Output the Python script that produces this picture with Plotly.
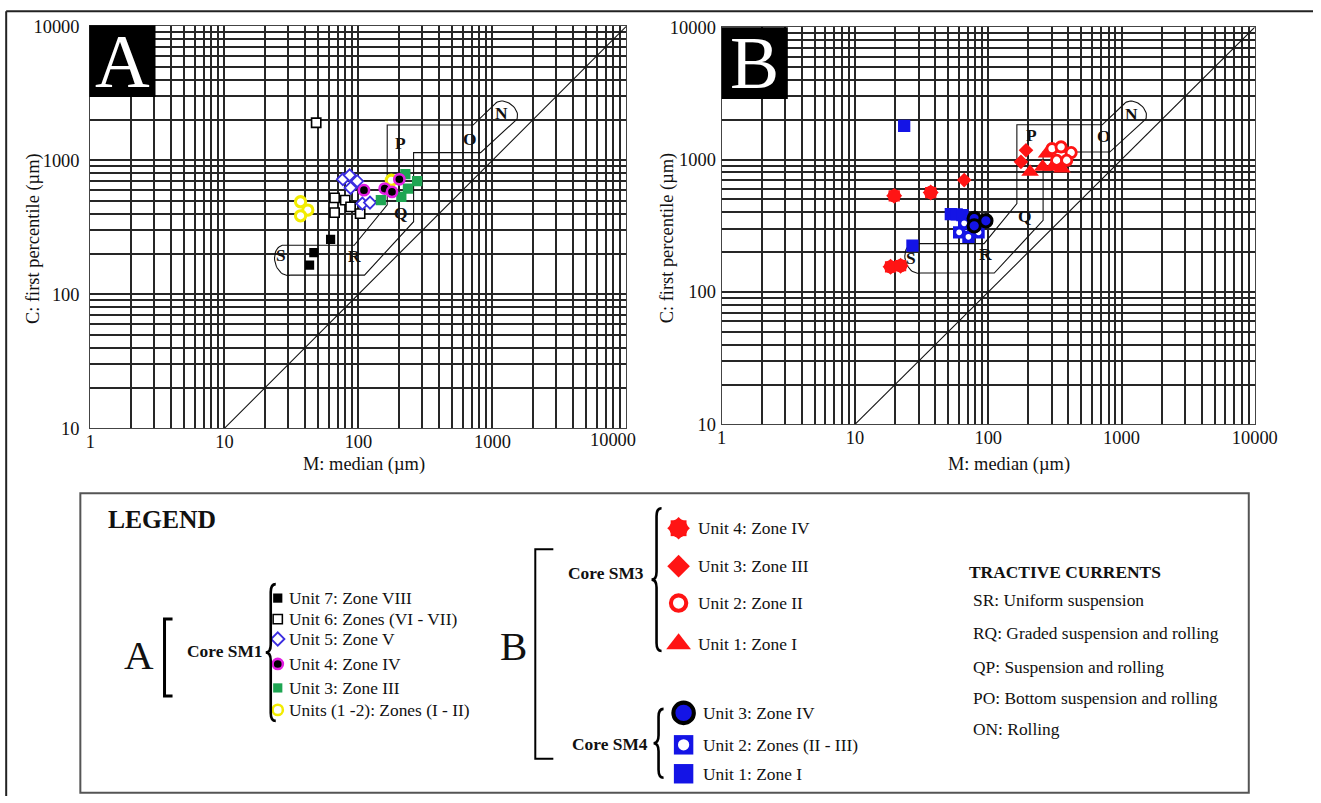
import numpy as np
import plotly.graph_objects as go

# Page geometry: the page is viewed with a 8 px body margin and captured at
# a slight reduction, so layout positions below are given in final-image pixels
# and converted to figure pixels with S and OFF.
S = 0.977
OFF = 8
IMG_W, IMG_H = 1321, 803
FW = int(round(IMG_W / S)) - 2 * OFF
FH = int(round(IMG_H / S)) - 2 * OFF

SERIF = "Liberation Serif, Times New Roman, serif"
GRID = "#262626"
RED = "#ff1414"
BLUE = "#1414e6"

# ---------------- Core SM1 (panel A): M = median, C = first percentile (µm)
sm1_u7_m = [62, 46.5, 43.2]
sm1_u7_c = [257, 205, 165]
sm1_u6_m = [48.4, 66.4, 79.7, 87.4, 66.4, 103]
sm1_u6_c = [1905, 524, 504, 449, 407, 400]
sm1_u5_m = [76.6, 86, 98, 87.4, 107, 122]
sm1_u5_c = [721, 773, 698, 622, 475, 483]
sm1_u4_m = [110, 157, 178, 202]
sm1_u4_c = [598, 615, 581, 721]
sm1_u3_m = [147, 224, 274, 234, 209]
sm1_u3_c = [504, 787, 698, 615, 533]
sm1_u12_m = [37, 41.9, 37, 176]
sm1_u12_c = [490, 425, 385, 709]

# ---------------- Cores SM3 and SM4 (panel B)
sm3_u4_m = [19.7, 37, 18.5, 22]
sm3_u4_c = [532, 564, 155, 158]
sm3_u3_m = [192, 176, 66]
sm3_u3_c = [1177, 961, 700]
sm3_u1_m = [206, 256, 274, 304, 358]
sm3_u1_c = [807, 881, 1109, 881, 855]
sm3_u2_m = [301, 352, 419, 326, 388]
sm3_u2_c = [1211, 1248, 1130, 988, 988]
sm4_u1_m = [23.4, 27, 52.4, 58, 64]
sm4_u1_c = [1795, 224, 388, 385, 381]
sm4_u2_m = [66, 60.5, 71, 84.6]
sm4_u2_c = [330, 282, 261, 282]
sm4_u3_m = [78.5, 78.5, 96]
sm4_u3_c = [359, 316, 345]

# ---------------- CM diagram template (tractive-current band)
cm_upper_m = [27, 93, 164, 164, 717, 1050]
cm_upper_c = [232, 232, 465, 1830, 1830, 2640]
cm_lower_m = [31, 111, 258, 258, 816, 1500]
cm_lower_c = [139, 139, 348, 1140, 1140, 1980]
cm_label_text = ["N", "O", "P", "Q", "R", "S"]
cm_label_m_a = [1169, 678, 207, 207, 93.6, 26.5]
cm_label_c_a = [2259, 1449, 1352, 407, 194, 198]
cm_label_m_b = [1196, 745, 212, 189, 96, 26.2]
cm_label_c_b = [2223, 1500, 1528, 374, 192, 180]

# ---------------- axis ticks
x_ticks = [1, 10, 100, 1000, 10000]
y_ticks = [10, 100, 1000, 10000]

# ---------------- legend texts
legend_a_labels = ["Unit 7: Zone VIII", "Unit 6: Zones (VI - VII)", "Unit 5: Zone V",
                   "Unit 4: Zone IV", "Unit 3: Zone III", "Units (1 -2): Zones (I - II)"]
legend_sm3_labels = ["Unit 4: Zone IV", "Unit 3: Zone III", "Unit 2: Zone II", "Unit 1: Zone I"]
legend_sm4_labels = ["Unit 3: Zone IV", "Unit 2: Zones (II - III)", "Unit 1: Zone I"]
tractive_title = "TRACTIVE CURRENTS"
tractive_labels = ["SR: Uniform suspension", "RQ: Graded suspension and rolling",
                   "QP: Suspension and rolling", "PO: Bottom suspension and rolling",
                   "ON: Rolling"]


def fs(v):
    """Size in figure pixels for a size wanted in image pixels."""
    return v / S


def cap(p0, p1, bulge, outward, n=24):
    """Rounded end of the band, a half-ellipse in log space from p0 to p1."""
    a = np.log10(np.array(p0, float))
    b = np.log10(np.array(p1, float))
    mid = (a + b) / 2
    half = a - mid
    perp = np.array([-half[1], half[0]])
    perp /= np.linalg.norm(perp)
    if perp @ np.array(outward, float) < 0:
        perp = -perp
    t = np.linspace(0, np.pi, n)
    pts = mid[None, :] + np.cos(t)[:, None] * half[None, :] + np.sin(t)[:, None] * bulge * perp[None, :]
    return list(10 ** pts[:, 0]), list(10 ** pts[:, 1])


def cm_outline():
    nx, ny = cap((cm_lower_m[-1], cm_lower_c[-1]), (cm_upper_m[-1], cm_upper_c[-1]), 0.07, (1, 1))
    sx, sy = cap((cm_upper_m[0], cm_upper_c[0]), (cm_lower_m[0], cm_lower_c[0]), 0.085, (-1, 0))
    xs = list(cm_lower_m) + nx[1:] + list(cm_upper_m[::-1])[1:] + sx[1:]
    ys = list(cm_lower_c) + ny[1:] + list(cm_upper_c[::-1])[1:] + sy[1:]
    return xs, ys


fig = go.Figure()


def add_pts(m, c, xa, ya, size, line=None, **marker):
    mk = dict(size=fs(size), **marker)
    if line:
        mk["line"] = dict(color=line[0], width=fs(line[1]))
    fig.add_trace(go.Scatter(x=m, y=c, xaxis=xa, yaxis=ya, mode="markers",
                             marker=mk, hoverinfo="skip", showlegend=False))


for xa, ya in (("x", "y"), ("x2", "y2")):
    ox, oy = cm_outline()
    fig.add_trace(go.Scatter(x=ox, y=oy, xaxis=xa, yaxis=ya, mode="lines",
                             line=dict(color="#111", width=1.1), hoverinfo="skip", showlegend=False))
    fig.add_trace(go.Scatter(x=[10, 10000], y=[10, 10000], xaxis=xa, yaxis=ya, mode="lines",
                             line=dict(color="#111", width=1.1), hoverinfo="skip", showlegend=False))

# ---- panel A points
add_pts(sm1_u7_m, sm1_u7_c, "x", "y", 9, symbol="square", color="black")
add_pts(sm1_u6_m, sm1_u6_c, "x", "y", 9, ("black", 1.6), symbol="square", color="white")
add_pts(sm1_u5_m, sm1_u5_c, "x", "y", 9, ("#3b2de0", 1.8), symbol="diamond", color="white")
add_pts(sm1_u12_m, sm1_u12_c, "x", "y", 10, ("#f2ec00", 3), symbol="circle", color="white")
add_pts(sm1_u3_m, sm1_u3_c, "x", "y", 10, symbol="square", color="#1ea552")
add_pts(sm1_u4_m, sm1_u4_c, "x", "y", 10, ("#e21ee2", 2.5), symbol="circle", color="black")

# ---- panel B points
add_pts(sm3_u4_m, sm3_u4_c, "x2", "y2", 11, symbol="square", color=RED)
add_pts(sm3_u4_m, sm3_u4_c, "x2", "y2", 12, symbol="diamond", color=RED)
add_pts(sm3_u4_m, sm3_u4_c, "x2", "y2", 13, symbol="circle", color=RED)
add_pts(sm3_u3_m, sm3_u3_c, "x2", "y2", 11, symbol="diamond", color=RED)
add_pts(sm3_u1_m, sm3_u1_c, "x2", "y2", 15, symbol="triangle-up", color=RED)
add_pts(sm3_u2_m, sm3_u2_c, "x2", "y2", 10, (RED, 2.8), symbol="circle", color="white")
add_pts(sm4_u1_m, sm4_u1_c, "x2", "y2", 12, symbol="square", color=BLUE)
add_pts(sm4_u2_m, sm4_u2_c, "x2", "y2", 12, symbol="square", color=BLUE)
add_pts(sm4_u2_m, sm4_u2_c, "x2", "y2", 5.5, symbol="circle", color="white")
add_pts(sm4_u3_m, sm4_u3_c, "x2", "y2", 12, ("black", 3), symbol="circle", color=BLUE)

# ---- legend symbols (image-pixel overlay axes x3/y3)
la_x, la_y = 280, [597, 618, 638, 663, 687, 709]
add_pts([la_x], [la_y[0]], "x3", "y3", 9, symbol="square", color="black")
add_pts([la_x], [la_y[1]], "x3", "y3", 9, ("black", 1.5), symbol="square", color="white")
add_pts([la_x], [la_y[2]], "x3", "y3", 10, ("#3b2de0", 1.8), symbol="diamond", color="white")
add_pts([la_x], [la_y[3]], "x3", "y3", 10, ("#e21ee2", 2.5), symbol="circle", color="black")
add_pts([la_x], [la_y[4]], "x3", "y3", 9, symbol="square", color="#1ea552")
add_pts([la_x], [la_y[5]], "x3", "y3", 10, ("#f2ec00", 2.5), symbol="circle", color="white")

lb_x, lb_y = 680, [527, 565, 602, 643]
add_pts([lb_x], [lb_y[0]], "x3", "y3", 15.5, symbol="square", color=RED)
add_pts([lb_x], [lb_y[0]], "x3", "y3", 17, symbol="diamond", color=RED)
add_pts([lb_x], [lb_y[0]], "x3", "y3", 18, symbol="circle", color=RED)
add_pts([lb_x], [lb_y[1]], "x3", "y3", 17, symbol="diamond", color=RED)
add_pts([lb_x], [lb_y[2]], "x3", "y3", 15, (RED, 4), symbol="circle", color="white")
add_pts([lb_x], [lb_y[3]], "x3", "y3", 21, symbol="triangle-up", color=RED)

lc_x, lc_y = 685, [712, 744, 773]
add_pts([lc_x], [lc_y[0]], "x3", "y3", 20, ("black", 4), symbol="circle", color=BLUE)
add_pts([lc_x], [lc_y[1]], "x3", "y3", 19, symbol="square", color=BLUE)
add_pts([lc_x], [lc_y[1]], "x3", "y3", 11, symbol="circle", color="white")
add_pts([lc_x], [lc_y[2]], "x3", "y3", 19, symbol="square", color=BLUE)

# ---------------- axes
x_minor = [k * 10 ** e for e in range(0, 4) for k in range(2, 10)]
y_minor = [k * 10 ** e for e in range(1, 4) for k in range(2, 10)]


def to_fig(p):
    return p / S - OFF


def xdom(left, right):
    return [to_fig(left) / FW, to_fig(right) / FW]


def ydom(bottom, top):
    return [1 - to_fig(bottom) / FH, 1 - to_fig(top) / FH]


def log_axis(domain, rng, anchor, ticks, minor, standoff, texts=None):
    return dict(type="log", domain=domain, range=rng, anchor=anchor,
                tickmode="array", tickvals=ticks,
                ticktext=texts if texts is not None else [str(v) for v in ticks],
                showgrid=True, gridcolor=GRID, gridwidth=1.5,
                minor=dict(tickmode="array", tickvals=minor, showgrid=True,
                           gridcolor=GRID, gridwidth=1.5, ticks=""),
                showline=True, linecolor="#444", linewidth=1.3, mirror=True,
                ticks="", ticklabelstandoff=standoff,
                tickfont=dict(family=SERIF, size=fs(18), color="#111"),
                zeroline=False, fixedrange=True)


# panel A: the outermost x label sits inside the frame, drawn separately below
xa_texts = [str(v) for v in x_ticks[:-1]] + [""]

layout_axes = dict(
    xaxis=log_axis(xdom(93, 628), [0, 4], "y", x_ticks, x_minor, -4, xa_texts),
    yaxis=log_axis(ydom(427, 24), [1, 4], "x", y_ticks, y_minor, 6),
    xaxis2=log_axis(xdom(723, 1255), [0, 4], "y2", x_ticks, x_minor, -4),
    yaxis2=log_axis(ydom(423, 25), [1, 4], "x2", y_ticks, y_minor, 1),
    xaxis3=dict(domain=[0, 1], range=[S * OFF, S * (FW + OFF)], anchor="y3",
                visible=False, fixedrange=True),
    yaxis3=dict(domain=[0, 1], range=[S * (FH + OFF), S * OFF], anchor="x3",
                visible=False, fixedrange=True),
)

# ---------------- shapes
shapes = []


def px_shape(**kw):
    shapes.append(dict(xref="x3", yref="y3", **kw))


# outer frame
px_shape(type="line", x0=9, y0=9, x1=IMG_W, y1=9, line=dict(color="#222", width=2), layer="above")
px_shape(type="line", x0=9, y0=9, x1=9, y1=IMG_H, line=dict(color="#222", width=2), layer="above")
# panel tags
px_shape(type="rect", x0=92, y0=23, x1=158, y1=95, fillcolor="black", line=dict(width=0), layer="above")
px_shape(type="rect", x0=723, y0=25, x1=789, y1=97, fillcolor="black", line=dict(width=0), layer="above")
# legend frame
px_shape(type="rect", x0=83, y0=492, x1=1249, y1=792, line=dict(color="#555", width=2), layer="above")


def brace(x, y0, y1, d=5, r=8):
    ym = (y0 + y1) / 2
    return (f"M {x + d},{y0} Q {x},{y0} {x},{y0 + r} L {x},{ym - r} "
            f"Q {x},{ym} {x - d},{ym} Q {x},{ym} {x},{ym + r} "
            f"L {x},{y1 - r} Q {x},{y1} {x + d},{y1}")


px_shape(type="path", path=brace(273, 583, 720), line=dict(color="black", width=2.6), layer="above")
px_shape(type="path", path=brace(658, 507, 650), line=dict(color="black", width=2.6), layer="above")
px_shape(type="path", path=brace(660, 708, 777), line=dict(color="black", width=2.6), layer="above")
px_shape(type="path", path="M 175,618 L 167,618 L 167,695 L 175,695",
         line=dict(color="black", width=3), layer="above")
px_shape(type="path", path="M 555,548 L 537,548 L 537,758 L 555,758",
         line=dict(color="black", width=2), layer="above")

# ---------------- annotations
ann = []


def px_text(x, y, text, size=17, bold=False, anchor="left", color="#111", angle=0):
    ann.append(dict(xref="x3", yref="y3", x=x, y=y, text=f"<b>{text}</b>" if bold else text,
                    showarrow=False, xanchor=anchor, yanchor="middle", textangle=angle,
                    font=dict(family=SERIF, size=fs(size), color=color)))


# panel tags and axis titles
px_text(125, 59, "A", size=74, anchor="center", color="white")
px_text(756, 61, "B", size=72, anchor="center", color="white")
for cx, ty in ((37, 237), (669, 236)):
    px_text(cx, ty, "C: first percentile (µm)", size=18, anchor="center", angle=-90)
for cx in (366, 1010):
    px_text(cx, 463, "M: median (µm)", size=18, anchor="center")
px_text(615, 439, str(x_ticks[-1]), size=18, anchor="center")

# CM zone letters
for xa, ya, ms, cs in (("x", "y", cm_label_m_a, cm_label_c_a), ("x2", "y2", cm_label_m_b, cm_label_c_b)):
    for t, m, c in zip(cm_label_text, ms, cs):
        ann.append(dict(xref=xa, yref=ya, x=np.log10(m), y=np.log10(c), text=f"<b>{t}</b>",
                        showarrow=False, font=dict(family=SERIF, size=fs(17), color="#111")))

# legend
px_text(109, 518, "LEGEND", size=25, bold=True)
px_text(142, 655, "A", size=40, anchor="center")
px_text(515, 645, "B", size=40, anchor="center")
px_text(187, 650, "Core SM1", size=17, bold=True)
px_text(568, 572, "Core SM3", size=17, bold=True)
px_text(572, 743, "Core SM4", size=17, bold=True)
for y, t in zip(la_y, legend_a_labels):
    px_text(289, y, t, size=17)
for y, t in zip(lb_y, legend_sm3_labels):
    px_text(697, y, t, size=17)
for y, t in zip(lc_y, legend_sm4_labels):
    px_text(702, y, t, size=17)
px_text(968, 571, tractive_title, size=17, bold=True)
for y, t in zip([599, 632, 666, 697, 728], tractive_labels):
    px_text(972, y, t, size=17)

fig.update_layout(width=FW, height=FH, margin=dict(l=0, r=0, t=0, b=0),
                  paper_bgcolor="white", plot_bgcolor="rgba(0,0,0,0)",
                  showlegend=False, font=dict(family=SERIF, color="#111"),
                  shapes=shapes, annotations=ann, **layout_axes)

fig.write_html("out.html")
